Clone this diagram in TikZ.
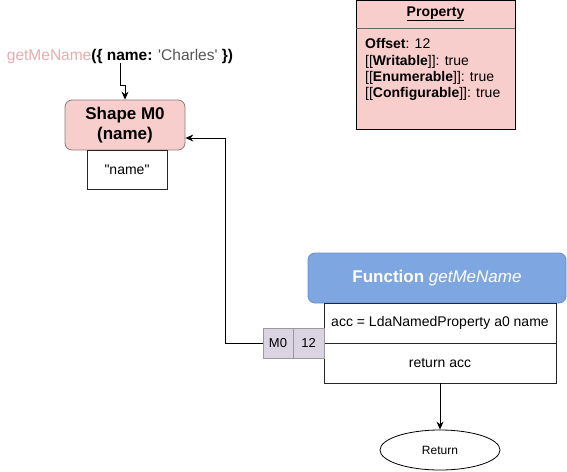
\documentclass[tikz,border=0pt]{standalone}
\usepackage{fontspec}
\setmainfont{Liberation Sans}[Ligatures=TeXOff]
\usetikzlibrary{arrows.meta,shapes.geometric}
\definecolor{pinkfill}{HTML}{F8CECC}
\definecolor{pinkline}{HTML}{8A7A7A}
\definecolor{callname}{HTML}{EBAAAA}
\definecolor{strgray}{HTML}{555555}
\definecolor{bluefill}{HTML}{7EA6E0}
\definecolor{blueline}{HTML}{6C8EBF}
\definecolor{slotfill}{HTML}{D9D3E2}
\definecolor{slotline}{HTML}{9A9A9A}
\newcommand{\fsz}[1]{\fontsize{#1}{#1}\selectfont}
\tikzset{
  arr/.style={line width=0.9pt, -{Stealth[length=8pt,width=7pt]}},
  plainbox/.style={draw=black!85, line width=0.8pt, fill=white, inner sep=0pt, font=\fsz{14}},
  slot/.style={draw=slotline, fill=slotfill, line width=0.8pt, minimum width=30pt, minimum height=30pt, inner sep=0pt, font=\fsz{13}},
}
\begin{document}
\begin{tikzpicture}[x=1pt,y=-1pt]
\useasboundingbox (0,0) rectangle (567,471);

% call expression
\node[inner sep=0pt, font=\fsz{15.5}] (call) at (120,56)
  {\textcolor{callname}{getMeName}\textbf{(\{ name:} \textcolor{strgray}{'Charles'} \textbf{\})}};

% hidden class
\node[draw=pinkline, fill=pinkfill, line width=0.8pt, rounded corners=7pt,
      minimum width=120pt, minimum height=50pt, inner sep=0pt,
      align=center, font=\fsz{17}\bfseries] (shape) at (125,125)
  {Shape M0\\[3pt](name)};
\node[plainbox, minimum width=80pt, minimum height=39pt] (field) at (127,169.5) {"name"};

% property descriptor
\node[draw=black, fill=pinkfill, line width=0.8pt, minimum width=159pt, minimum height=129pt,
      inner sep=0pt] (prop) at (435.5,64.5) {};
\coordinate (sep) at (0,28);
\draw[black!60, line width=0.8pt] (prop.west |- sep) -- (prop.east |- sep);
\node[font=\fsz{14}\bfseries, inner sep=0pt] (proptitle) at (435.5,14) {\underline{Property}};
\node[anchor=north west, align=left, inner sep=0pt, font=\fontsize{14}{16.2}\selectfont] (propbody) at (365,38.5)
  {\textbf{Offset}: 12\\
   {[}[\textbf{Writable}]]: true\\
   {[}[\textbf{Enumerable}]]: true\\
   {[}[\textbf{Configurable}]]: true};

% function
\node[draw=blueline, fill=bluefill, line width=0.8pt, rounded corners=7pt,
      minimum width=258pt, minimum height=50pt, inner sep=0pt,
      text=white, font=\fsz{17}] (fhead) at (437,278)
  {\textbf{Function} \textit{getMeName}};
\node[plainbox, minimum width=232pt, minimum height=40pt] (row1) at (440,323) {acc = LdaNamedProperty a0 name};
\node[plainbox, minimum width=232pt, minimum height=40pt] (row2) at (440,363) {return acc};

% inline cache slots
\node[slot] (m0) at (278,343) {M0};
\node[slot, minimum width=31pt] (off) at (308.5,343) {12};

% return
\node[draw=black, ellipse, line width=0.8pt, fill=white, minimum width=120pt, minimum height=40pt,
      inner sep=0pt, font=\fsz{12}] (ret) at (440,450) {Return};

% connectors
\coordinate (bend) at (225,138);
\coordinate (jog) at (120,85);
\draw[arr] (call.south) -- (jog) -| (shape.north);
\draw[arr] (m0.west) -| (bend) -- (bend -| shape.east);
\draw[arr] (row2.south) -- (ret.north);
\end{tikzpicture}
\end{document}
